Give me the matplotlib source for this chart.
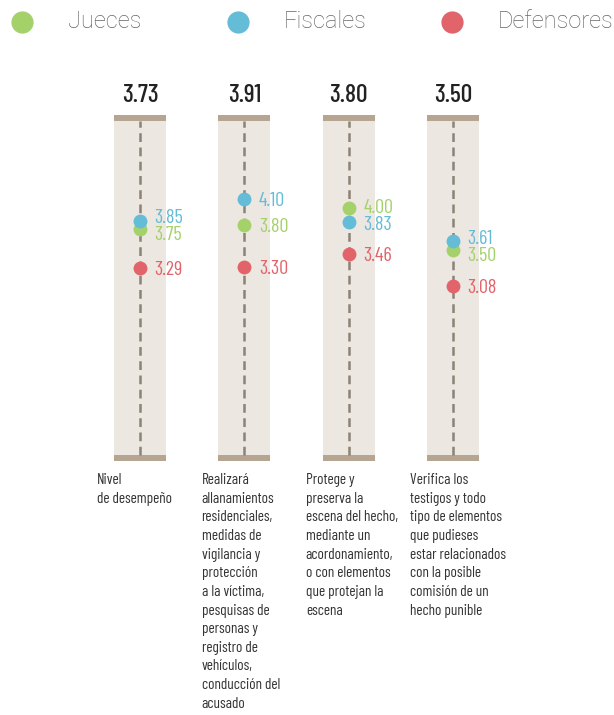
import matplotlib
matplotlib.use("Agg")
import matplotlib.pyplot as plt
from matplotlib.lines import Line2D
from matplotlib.patches import Rectangle

# data
promedios = ["3.73", "3.91", "3.80", "3.50"]
jueces = [3.75, 3.80, 4.00, 3.50]
fiscales = [3.85, 4.10, 3.83, 3.61]
defensores = [3.29, 3.30, 3.46, 3.08]
descripciones = [
    "Nivel\nde desempeño",
    "Realizará\nallanamientos\nresidenciales,\nmedidas de\nvigilancia y\nprotección\na la víctima,\npesquisas de\npersonas y\nregistro de\nvehículos,\nconducción del\nacusado",
    "Protege y\npreserva la\nescena del hecho,\nmediante un\nacordonamiento,\no con elementos\nque protejan la\nescena",
    "Verifica los\ntestigos y todo\ntipo de elementos\nque pudieses\nestar relacionados\ncon la posible\ncomisión de un\nhecho punible",
]
series_names = ["Jueces", "Fiscales", "Defensores"]
series_colors = ["#a5d16b", "#64bcd7", "#e2646b"]

COND = ["Barlow Condensed", "Roboto Condensed", "DejaVu Sans"]


def label_positions(vals, gap=0.2):
    # push apart labels that sit too close together (values stay where they are)
    order = sorted(range(len(vals)), key=lambda k: -vals[k])
    pos = list(vals)
    for a, b in zip(order[:-1], order[1:]):
        if pos[a] - pos[b] < gap:
            mid = (pos[a] + pos[b]) / 2
            pos[a], pos[b] = mid + gap / 2, mid - gap / 2
    return pos


fig = plt.figure(figsize=(6.14, 7.15), dpi=100)
ax = fig.add_axes([0.126, 0.3524, 0.7137, 0.4875])
ax.set_xlim(-0.6, 3.6)
ax.set_ylim(1.0, 5.1)
ax.axis("off")

bar_lo, bar_hi = 1.02, 5.09
cap = 0.07
half_w = 0.25

for i in range(len(promedios)):
    ax.add_patch(Rectangle((i - half_w, bar_lo), 2 * half_w, bar_hi - bar_lo,
                           color="#ede7e2", zorder=1, lw=0))
    ax.add_patch(Rectangle((i - half_w, bar_hi - cap), 2 * half_w, cap,
                           color="#b6a591", zorder=2, lw=0))
    ax.add_patch(Rectangle((i - half_w, bar_lo), 2 * half_w, cap,
                           color="#b6a591", zorder=2, lw=0))
    ax.plot([i, i], [bar_lo + cap, bar_hi - cap], color="#8c8275", lw=1.8,
            dashes=(3.5, 2.2), zorder=3)

    # average on top
    ax.text(i, 5.32, promedios[i], ha="center", va="center", fontsize=18.5,
            family=COND, fontweight="medium", color="#222222", clip_on=False)

    # points and labels
    col_vals = [jueces[i], fiscales[i], defensores[i]]
    ypos = label_positions(col_vals)
    for v, y, col in zip(col_vals, ypos, series_colors):
        ax.plot(i, v, "o", ms=10, color=col, mec="none", zorder=4)
        ax.text(i + 0.14, y - 0.02, "%.2f" % v, ha="left", va="center",
                fontsize=14.5, family=COND, color=col)

    # description below
    ax.text(i - 0.41, 0.88, descripciones[i], ha="left", va="top", fontsize=11,
            family=COND, color="#333333", linespacing=1.42, clip_on=False)

# legend across the top
leg_x = [22, 238, 452]
for name, col, x in zip(series_names, series_colors, leg_x):
    fig.add_artist(Line2D([x / 614], [1 - 22 / 715], transform=fig.transFigure,
                          marker="o", ms=16, color=col, mec="none", ls="none"))
    fig.text((x + 46) / 614, 1 - 22 / 715, name, ha="left", va="center",
             fontsize=17, family=["Roboto", "DejaVu Sans"], fontweight="light",
             color="#666666")

fig.savefig("out.png", dpi=100)
